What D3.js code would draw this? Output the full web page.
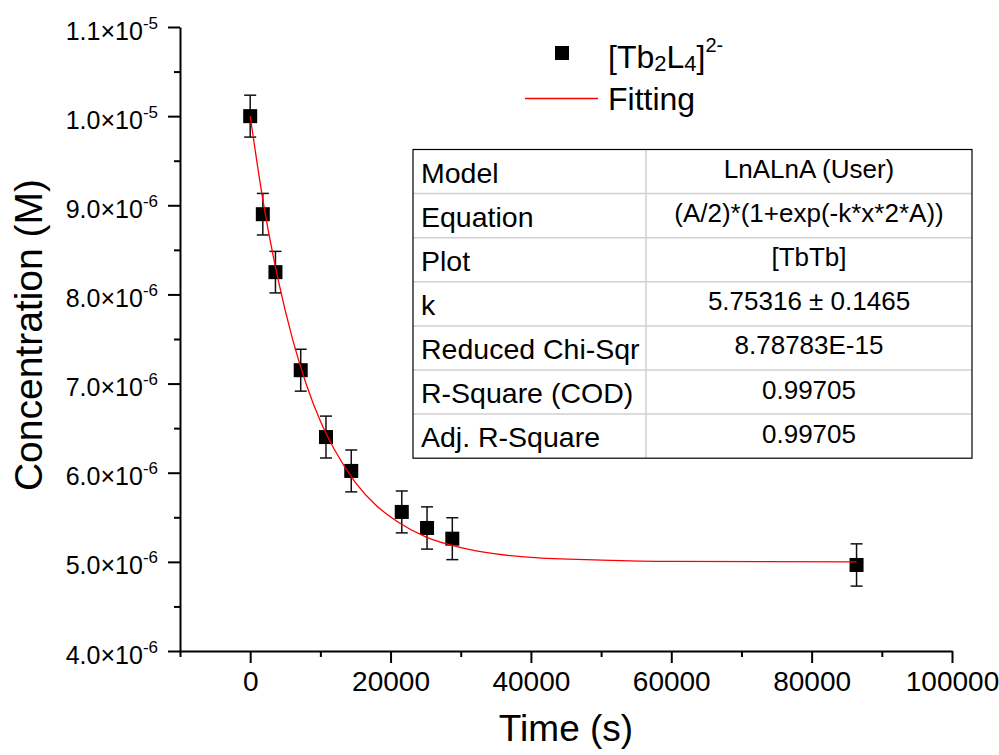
<!DOCTYPE html>
<html lang="en">
<head>
<meta charset="UTF-8">
<title>Tb2L4 concentration vs time</title>
<script src="https://cdn.jsdelivr.net/npm/d3@7.8.5/dist/d3.min.js"></script>
<style>
    body { margin: 0; background: #fff; }
    svg { display: block; font-family: "Liberation Sans", Arial, sans-serif; }
</style>
</head>
<body>
<div id="chart"></div>
<script>
// measured points (time in s, concentration in M)
const times = [0, 1800, 3600, 7200, 10800, 14400, 21600, 25200, 28800, 86400];
const conc = [1.0e-5, 8.9e-6, 8.25e-6, 7.15e-6, 6.4e-6, 6.02e-6, 5.56e-6, 5.38e-6, 5.26e-6, 4.965e-6];
const errs = [2.35e-7, 2.33e-7, 2.33e-7, 2.35e-7, 2.35e-7, 2.35e-7, 2.35e-7, 2.37e-7, 2.35e-7, 2.37e-7];

// fitted curve
const fitTimes = [0, 2000, 4000, 6000, 8000, 10000, 12000, 15000, 18000, 21000, 25000, 30000, 35000, 40000, 50000, 60000, 86400];
const fitConc = [1.0e-5, 8.97e-6, 8.16e-6, 7.51e-6, 6.99e-6, 6.58e-6, 6.26e-6, 5.89e-6, 5.63e-6, 5.45e-6, 5.28e-6, 5.16e-6, 5.09e-6, 5.05e-6, 5.02e-6, 5.005e-6, 5.0e-6];

// fit results table
const tableLabels = ["Model", "Equation", "Plot", "k", "Reduced Chi-Sqr", "R-Square (COD)", "Adj. R-Square"];
const tableValues = ["LnALnA (User)", "(A/2)*(1+exp(-k*x*2*A))", "[TbTb]", "5.75316 \u00b1 0.1465", "8.78783E-15", "0.99705", "0.99705"];

const yTicks = [4e-6, 5e-6, 6e-6, 7e-6, 8e-6, 9e-6, 1.0e-5, 1.1e-5];
const xTicks = [0, 20000, 40000, 60000, 80000, 100000];

const W = 999, H = 755;
const svg = d3.select("#chart").append("svg").attr("width", W).attr("height", H);

const x = d3.scaleLinear().domain([-10000, 100000]).range([180, 952]);
const y = d3.scaleLinear().domain([4e-6, 1.1e-5]).range([651, 27]);

// minor ticks
const yMinor = d3.range(4.5e-6, 1.1e-5, 1e-6);
const xMinor = d3.range(-10000, 100000, 20000);

svg.append("g")
    .attr("transform", "translate(180,0)")
    .call(d3.axisLeft(y).tickValues(yMinor).tickSize(6).tickFormat(""))
    .call(g => g.select(".domain").remove())
    .selectAll("line").attr("stroke-width", 2);

svg.append("g")
    .attr("transform", "translate(0,651)")
    .call(d3.axisBottom(x).tickValues(xMinor).tickSize(6).tickFormat(""))
    .call(g => g.select(".domain").remove())
    .selectAll("line").attr("stroke-width", 2);

// y axis
const yAxis = svg.append("g")
    .attr("transform", "translate(180,0)")
    .call(d3.axisLeft(y).tickValues(yTicks).tickSize(12).tickSizeOuter(0).tickPadding(10));
yAxis.select(".domain").attr("stroke-width", 2);
yAxis.selectAll("line").attr("stroke-width", 2);
yAxis.selectAll(".tick text")
    .attr("font-size", 25)
    .attr("fill", "#000")
    .attr("dy", 12)
    .text(null)
    .each(function(d) {
        const exp = Math.floor(Math.log10(d) + 1e-9);
        const mant = (d / Math.pow(10, exp)).toFixed(1);
        const t = d3.select(this);
        t.append("tspan").text(mant + "\u00d710");
        t.append("tspan").attr("font-size", 17).attr("dy", -11).text(exp);
    });

// x axis
const xAxis = svg.append("g")
    .attr("transform", "translate(0,651)")
    .call(d3.axisBottom(x).tickValues(xTicks).tickSize(12).tickSizeOuter(0).tickPadding(8)
        .tickFormat(d3.format("d")));
xAxis.select(".domain").attr("stroke-width", 2);
xAxis.selectAll("line").attr("stroke-width", 2);
xAxis.selectAll(".tick text").attr("font-size", 28).attr("fill", "#000");

// axis titles
svg.append("text")
    .attr("x", x(45000)).attr("y", 741)
    .attr("text-anchor", "middle")
    .attr("font-size", 37)
    .text("Time (s)");

svg.append("text")
    .attr("transform", `translate(42,${(27 + 651) / 2 - 4}) rotate(-90)`)
    .attr("text-anchor", "middle")
    .attr("font-size", 39)
    .text("Concentration (M)");

// error bars
const pts = times.map((t, i) => ({t: t, c: conc[i], e: errs[i]}));
const eb = svg.append("g").attr("stroke", "#111").attr("stroke-width", 1.5);
pts.forEach(p => {
    const cx = x(p.t);
    eb.append("line").attr("x1", cx).attr("x2", cx).attr("y1", y(p.c + p.e)).attr("y2", y(p.c - p.e));
    eb.append("line").attr("x1", cx - 6).attr("x2", cx + 6).attr("y1", y(p.c + p.e)).attr("y2", y(p.c + p.e));
    eb.append("line").attr("x1", cx - 6).attr("x2", cx + 6).attr("y1", y(p.c - p.e)).attr("y2", y(p.c - p.e));
});

// squares
svg.append("g").selectAll("rect")
    .data(pts)
    .enter()
    .append("rect")
    .attr("x", d => x(d.t) - 7)
    .attr("y", d => y(d.c) - 7)
    .attr("width", 14)
    .attr("height", 14)
    .attr("fill", "#000");

// fit line
const fitLine = d3.line()
    .x((d, i) => x(fitTimes[i]))
    .y(d => y(d))
    .curve(d3.curveMonotoneX);
svg.append("path")
    .attr("d", fitLine(fitConc))
    .attr("fill", "none")
    .attr("stroke", "#ff0000")
    .attr("stroke-width", 1.3);

// legend
const legend = svg.append("g");
legend.append("rect").attr("x", 555).attr("y", 46).attr("width", 14).attr("height", 14).attr("fill", "#000");
const lt = legend.append("text").attr("x", 608).attr("y", 68).attr("font-size", 32);
lt.append("tspan").text("[Tb");
lt.append("tspan").attr("font-size", 22).attr("dy", 3).text("2");
lt.append("tspan").attr("dy", -3).text("L");
lt.append("tspan").attr("font-size", 22).attr("dy", 3).text("4");
lt.append("tspan").attr("dy", -3).text("]");
lt.append("tspan").attr("font-size", 20).attr("dy", -16).text("2-");

legend.append("line").attr("x1", 525).attr("x2", 598).attr("y1", 98.5).attr("y2", 98.5)
    .attr("stroke", "#ff0000").attr("stroke-width", 1.3);
legend.append("text").attr("x", 608).attr("y", 110).attr("font-size", 32).text("Fitting");

// results table
const tX0 = 413, tX1 = 646, tX2 = 972, tY0 = 149.5, rowH = 44.1;
const table = svg.append("g");
const nRows = tableLabels.length;
for (let i = 1; i < nRows; i++) {
    table.append("line")
        .attr("x1", tX0).attr("x2", tX2)
        .attr("y1", tY0 + i * rowH).attr("y2", tY0 + i * rowH)
        .attr("stroke", "#d0d0d0").attr("stroke-width", 1.5);
}
table.append("line")
    .attr("x1", tX1).attr("x2", tX1)
    .attr("y1", tY0).attr("y2", tY0 + nRows * rowH)
    .attr("stroke", "#d0d0d0").attr("stroke-width", 1.5);
table.append("rect")
    .attr("x", tX0).attr("y", tY0)
    .attr("width", tX2 - tX0).attr("height", nRows * rowH)
    .attr("fill", "none").attr("stroke", "#000").attr("stroke-width", 1.2);

tableLabels.forEach((lab, i) => {
    const top = tY0 + i * rowH;
    table.append("text").attr("x", tX0 + 8).attr("y", top + 33).attr("font-size", 28.5).text(lab);
    table.append("text").attr("x", (tX1 + tX2) / 2).attr("y", top + 28.5)
        .attr("text-anchor", "middle").attr("font-size", 26).text(tableValues[i]);
});
</script>
</body>
</html>
